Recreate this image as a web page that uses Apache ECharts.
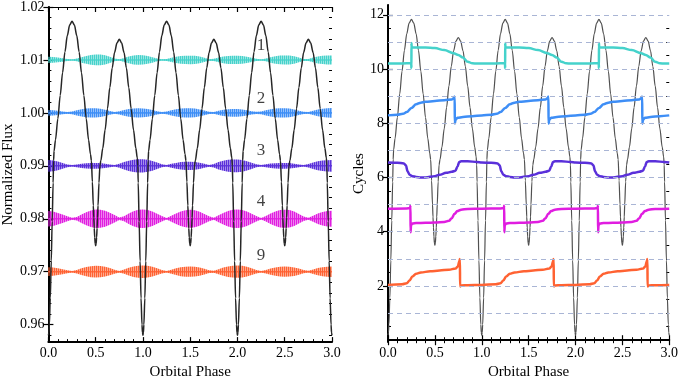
<!DOCTYPE html>
<html><head><meta charset="utf-8">
<script src="https://cdn.jsdelivr.net/npm/echarts@6/dist/echarts.min.js"></script>
<style>html,body{margin:0;padding:0;background:#fff}#c{width:681px;height:385px}</style>
</head><body><div id="c"></div>
<script>
// ================= DATA =================
// Orbital light curve, one orbital cycle (phase, normalized flux) – repeated each cycle
const lcPhase = [0,0.005,0.01,0.02,0.03,0.04,0.05,0.055,0.06,0.075,
  0.1,0.125,0.15,0.175,0.2,0.225,0.25,0.275,0.3,0.325,
  0.35,0.375,0.4,0.425,0.445,0.455,0.465,0.475,0.48,0.485,
  0.49,0.495,0.5,0.505,0.51,0.515,0.52,0.525,0.535,0.545,
  0.555,0.575,0.6,0.625,0.65,0.675,0.7,0.725,0.75,0.775,
  0.8,0.825,0.85,0.875,0.9,0.925,0.94,0.946,0.95,0.96,
  0.97,0.98,0.99,0.995];
const lcFlux = [0.9580,0.9585,0.9600,0.9650,0.9720,0.9795,0.9868,0.9910,0.9928,0.9949,
  0.9989,1.0033,1.0076,1.0115,1.0146,1.0166,1.0173,1.0166,1.0146,1.0115,
  1.0076,1.0033,0.9989,0.9949,0.9922,0.9910,0.9870,0.9825,0.9802,0.9782,
  0.9765,0.9753,0.9749,0.9753,0.9765,0.9782,0.9802,0.9825,0.9868,0.9900,
  0.9910,0.9933,0.9968,1.0008,1.0048,1.0085,1.0114,1.0132,1.0139,1.0132,
  1.0114,1.0085,1.0048,1.0008,0.9968,0.9933,0.9915,0.9900,0.9868,0.9795,
  0.9720,0.9650,0.9600,0.9585];
const nCycles = 3;

// Pulsation modes (left panel): label, band centre, envelope half-amplitude (1e-4 flux) at phase step 0.05 from 0 to 3
const modeNames = ['1','2','3','4','9'];
const bandCenters = [1.01, 1.00, 0.99, 0.98, 0.97];
const envStep = 0.05;
const env1 = [6.0,5.5,4.6,3.3,1.8,0.9,2.7,5.1,7.3,9.2,10.1,10.2,8.8,6.0,2.7,1.1,3.7,6.4,8.4,9.2,8.8,7.3,5.1,2.7,1.1,1.8,4.0,5.9,7.3,7.9,8.1,7.9,6.4,4.0,1.5,2.2,4.6,6.4,7.5,7.9,7.9,7.3,5.9,4.0,2.2,0.9,2.7,5.1,7.0,8.2,8.6,8.4,7.0,4.6,1.8,1.8,4.6,6.6,7.9,8.6,8.6];
const env2 = [5.5,4.9,4.0,2.7,1.8,2.7,5.1,7.0,8.2,8.8,8.6,7.7,5.9,3.7,1.8,2.9,5.5,7.3,8.4,8.8,8.4,7.3,5.5,3.3,1.8,2.6,5.1,7.0,8.1,8.6,8.6,8.1,6.6,4.4,2.2,1.8,4.0,5.9,7.0,7.3,7.3,6.6,5.1,3.3,2.0,2.7,5.1,7.0,8.2,8.8,8.8,8.1,6.4,4.2,2.2,1.8,4.0,6.2,7.9,8.8,9.2];
const env3 = [11.0,10.2,8.2,5.5,2.7,1.5,2.7,4.0,4.9,5.5,5.5,5.1,4.0,2.6,1.5,3.7,7.0,9.7,11.5,12.4,12.4,11.3,9.2,6.2,2.9,1.5,3.7,5.5,7.0,7.7,7.7,7.3,5.9,3.7,1.6,3.3,7.0,9.5,11.3,12.1,12.1,11.0,8.8,5.9,2.9,1.5,2.9,4.2,4.9,5.5,5.5,5.1,4.0,2.6,1.5,3.3,6.2,8.4,9.9,10.6,11.0];
const env4 = [14.6,13.5,11.0,7.9,4.8,1.8,3.3,8.2,12.4,15.6,17.4,17.2,15.2,11.5,7.0,2.2,4.6,10.1,14.3,16.8,17.4,16.5,13.7,9.5,5.1,1.5,5.5,10.1,13.7,16.1,17.0,16.1,13.4,9.2,4.6,1.8,6.4,11.0,14.6,16.8,17.4,16.5,13.7,9.5,5.1,1.5,5.1,9.9,13.7,16.3,17.2,16.5,13.7,9.2,4.4,1.8,5.5,9.7,12.8,14.6,15.2];
const env9 = [8.2,7.7,6.4,4.8,2.9,1.5,3.3,6.4,8.8,10.4,11.0,10.6,9.2,6.8,3.7,1.5,4.0,7.3,9.9,11.3,11.7,11.0,9.2,6.4,3.3,1.5,3.7,6.4,8.4,9.5,9.7,9.2,7.7,5.5,2.7,1.8,4.8,7.7,9.9,11.2,11.5,11.0,9.2,6.4,3.3,1.5,3.3,5.9,7.9,9.2,9.7,9.3,8.1,5.9,3.1,1.6,4.2,6.8,8.6,9.5,9.9];
const envelopes = [env1, env2, env3, env4, env9];
const labelPhase = 2.25;
const labelFlux = [1.0128, 1.0027, 0.9929, 0.9833, 0.9731];

// Pulsation phase in cycles (right panel), one orbital cycle, repeated
const m1Phase = [0,0.1,0.2,0.248,0.2499,0.2501,0.253,0.3,0.4,0.5,0.6,0.7,0.75,0.8,0.85,0.9,0.95];
const m1Cyc   = [10.20,10.20,10.21,10.22,10.03,10.96,10.79,10.79,10.79,10.77,10.70,10.58,10.52,10.42,10.27,10.21,10.20];
const m2Phase = [0,0.1,0.16,0.2,0.25,0.3,0.35,0.4,0.5,0.6,0.68,0.7,0.7115,0.7125,0.72,0.74,0.8,0.9];
const m2Cyc   = [8.29,8.31,8.35,8.41,8.56,8.70,8.76,8.79,8.82,8.85,8.88,8.92,8.99,7.98,8.13,8.20,8.23,8.26];
const m3Phase = [0,0.1,0.17,0.19,0.21,0.23,0.26,0.3,0.35,0.4,0.5,0.55,0.62,0.68,0.72,0.74,0.76,0.78,0.85,0.95];
const m3Cyc   = [6.55,6.54,6.52,6.45,6.22,6.10,6.05,6.02,6.00,6.00,6.05,6.10,6.17,6.21,6.25,6.40,6.57,6.60,6.60,6.57];
const m4Phase = [0,0.2,0.236,0.2395,0.2405,0.246,0.26,0.3,0.4,0.5,0.6,0.65,0.68,0.71,0.74,0.78,0.85];
const m4Cyc   = [4.85,4.86,4.87,4.97,3.98,4.25,4.30,4.32,4.33,4.34,4.36,4.40,4.50,4.66,4.76,4.81,4.84];
const m9Phase = [0,0.15,0.2,0.23,0.26,0.3,0.35,0.45,0.55,0.65,0.72,0.745,0.76,0.7675,0.7685,0.78,0.85];
const m9Cyc   = [2.04,2.06,2.10,2.20,2.35,2.45,2.50,2.54,2.57,2.60,2.64,2.72,2.90,2.99,1.98,2.02,2.03];
const modePhases = [m1Phase, m2Phase, m3Phase, m4Phase, m9Phase];
const modeCycles = [m1Cyc, m2Cyc, m3Cyc, m4Cyc, m9Cyc];

// Axis ticks
const fluxTicks = [0.96, 0.97, 0.98, 0.99, 1.00, 1.01, 1.02];
const cycleTicks = [2, 4, 6, 8, 10, 12];
const gridLevels = [1,2,3,4,5,6,7,8,9,10,11,12];

// ================= STYLE / BUILD =================
const FLUX_MIN = 0.9567, FLUX_MAX = 1.02;
const CYC_MIN = -0.07, CYC_MAX = 12.36;
const colors = ['#45D2CB', '#3E8EF6', '#5A30DA', '#E01DE0', '#FF6232'];
const FONT = '"Liberation Serif", "Times New Roman", serif';

function tile(ph, val, n) {
  const out = [];
  for (let k = 0; k < n; k++) for (let i = 0; i < ph.length; i++) out.push([ph[i] + k, val[i]]);
  out.push([n, val[0]]);
  return out;
}
function stripes(color) {
  const c = document.createElement('canvas');
  c.width = 2; c.height = 2;
  const g = c.getContext('2d');
  g.fillStyle = color;
  g.globalAlpha = 1; g.fillRect(0, 0, 1, 2);
  g.globalAlpha = 0.55; g.fillRect(1, 0, 1, 2);
  return c;
}
const fluxMinor = [];
for (let i = 479; i <= 509; i++) { if (i % 5 !== 0) fluxMinor.push(+(i * 0.002).toFixed(3)); }
const cycMinor = [];
for (let i = 1; i <= 24; i++) { if (i % 4 !== 0) cycMinor.push(i * 0.5); }

const tickLine = { color: '#000', width: 1.2 };
function xPair(g) {
  const base = {
    type: 'value', gridIndex: g, min: 0, max: nCycles, interval: 0.5,
    splitLine: { show: false },
    axisTick: { show: true, inside: true, length: 5, lineStyle: tickLine },
    minorTick: { show: true, splitNumber: 5, length: 3, lineStyle: { color: '#000', width: 1 } },
  };
  return [
    Object.assign({}, base, {
      position: 'bottom',
      axisLine: { show: true, lineStyle: { color: '#000', width: 2 } },
      axisLabel: { color: '#000', fontFamily: FONT, fontSize: 14, margin: 4, formatter: v => v.toFixed(1) },
      name: 'Orbital Phase', nameLocation: 'middle', nameGap: 17,
      nameTextStyle: { color: '#000', fontFamily: FONT, fontSize: 15 }
    }),
    Object.assign({}, base, {
      position: 'top',
      axisLine: { show: true, lineStyle: { color: '#000', width: 1 } },
      axisLabel: { show: false }
    })
  ];
}
function yAxesFor(g, min, max, majors, minors, fmt, name, gap) {
  const common = { type: 'value', gridIndex: g, min: min, max: max, splitLine: { show: false } };
  return [
    Object.assign({}, common, {
      position: 'left',
      axisLine: { show: true, lineStyle: { color: '#000', width: 2 } },
      axisTick: { show: true, inside: true, length: 5, lineStyle: tickLine, customValues: majors },
      axisLabel: { show: true, color: '#000', fontFamily: FONT, fontSize: 14, margin: 4, customValues: majors, formatter: fmt },
      name: name, nameLocation: 'middle', nameGap: gap,
      nameTextStyle: { color: '#000', fontFamily: FONT, fontSize: 15 }
    }),
    Object.assign({}, common, {
      position: 'right',
      axisLine: { show: true, lineStyle: { color: '#000', width: 1 } },
      axisTick: { show: true, inside: true, length: 5, lineStyle: tickLine, customValues: majors },
      axisLabel: { show: false }
    }),
    Object.assign({}, common, {
      position: 'left',
      axisLine: { show: false },
      axisTick: { show: true, inside: true, length: 3, lineStyle: { color: '#000', width: 1 }, customValues: minors },
      axisLabel: { show: false }
    }),
    Object.assign({}, common, {
      position: 'right',
      axisLine: { show: false },
      axisTick: { show: true, inside: true, length: 3, lineStyle: { color: '#000', width: 1 }, customValues: minors },
      axisLabel: { show: false }
    })
  ];
}

const xAxis = [].concat(xPair(0), xPair(1));
const yAxis = [].concat(
  yAxesFor(0, FLUX_MIN, FLUX_MAX, fluxTicks, fluxMinor, v => v.toFixed(2), 'Normalized Flux', 23),
  yAxesFor(1, CYC_MIN, CYC_MAX, cycleTicks, cycMinor, v => String(v), 'Cycles', 20),
  [{ type: 'value', gridIndex: 1, min: FLUX_MIN, max: FLUX_MAX, show: false }]
);

const series = [];
// left bands: amplitude-modulated pulsation envelopes, drawn through the axis scales
envelopes.forEach((env, i) => {
  const pattern = { image: stripes(colors[i]), repeat: 'repeat' };
  series.push({
    type: 'custom', coordinateSystem: 'cartesian2d', xAxisIndex: 0, yAxisIndex: 0,
    data: [[0, bandCenters[i]]], silent: true, clip: true, z: 2,
    renderItem: function (params, api) {
      const upper = [], lower = [];
      env.forEach((a, k) => {
        const ph = k * envStep;
        upper.push(api.coord([ph, bandCenters[i] + a * 1e-4]));
        lower.push(api.coord([ph, bandCenters[i] - a * 1e-4]));
      });
      const pts = upper.concat(lower.reverse());
      const c0 = api.coord([0, bandCenters[i]]);
      const c1 = api.coord([nCycles, bandCenters[i]]);
      return { type: 'group', children: [
        { type: 'polygon', shape: { points: pts }, style: { fill: pattern, stroke: null } },
        { type: 'line', shape: { x1: c0[0], y1: c0[1], x2: c1[0], y2: c1[1] },
          style: { stroke: colors[i], lineWidth: 1.6, opacity: 0.85 } }
      ] };
    }
  });
});
// left light curve
series.push({ type: 'line', xAxisIndex: 0, yAxisIndex: 0, data: tile(lcPhase, lcFlux, nCycles),
  symbol: 'none', smooth: 0.3, smoothMonotone: 'x', silent: true, z: 5,
  lineStyle: { color: '#262626', width: 1.5 } });
// mode labels
series.push({ type: 'scatter', xAxisIndex: 0, yAxisIndex: 0, symbolSize: 0, silent: true, z: 6,
  data: labelFlux.map((f, i) => ({ value: [labelPhase, f], name: modeNames[i] })),
  label: { show: true, position: 'inside', formatter: '{b}', color: '#111', fontFamily: FONT, fontSize: 17 } });

// right: dashed grid levels
series.push({ type: 'line', xAxisIndex: 2, yAxisIndex: 4, data: [], silent: true,
  markLine: { silent: true, symbol: ['none', 'none'], label: { show: false }, animation: false,
    lineStyle: { type: [5, 4], color: '#a9b5d5', width: 1 },
    data: gridLevels.map(v => ({ yAxis: v })) } });
// right light curve (same flux, hidden flux axis)
series.push({ type: 'line', xAxisIndex: 2, yAxisIndex: 8, data: tile(lcPhase, lcFlux, nCycles),
  symbol: 'none', smooth: 0.3, smoothMonotone: 'x', silent: true,
  lineStyle: { color: '#505050', width: 1.2 } });
// right mode phases
modePhases.forEach((ph, i) => {
  series.push({ type: 'line', xAxisIndex: 2, yAxisIndex: 4, data: tile(ph, modeCycles[i], nCycles),
    symbol: 'none', smooth: 0.35, smoothMonotone: 'x', silent: true, z: 4,
    lineStyle: { color: colors[i], width: 2.5 } });
});

const chart = echarts.init(document.getElementById('c'), null, { renderer: 'canvas' });
chart.setOption({
  animation: false,
  backgroundColor: '#fff',
  grid: [
    { left: 48, top: 5, width: 284, height: 346 },
    { left: 388, top: 5, width: 284, height: 346 }
  ],
  xAxis: xAxis,
  yAxis: yAxis,
  series: series
});
</script>
</body></html>
